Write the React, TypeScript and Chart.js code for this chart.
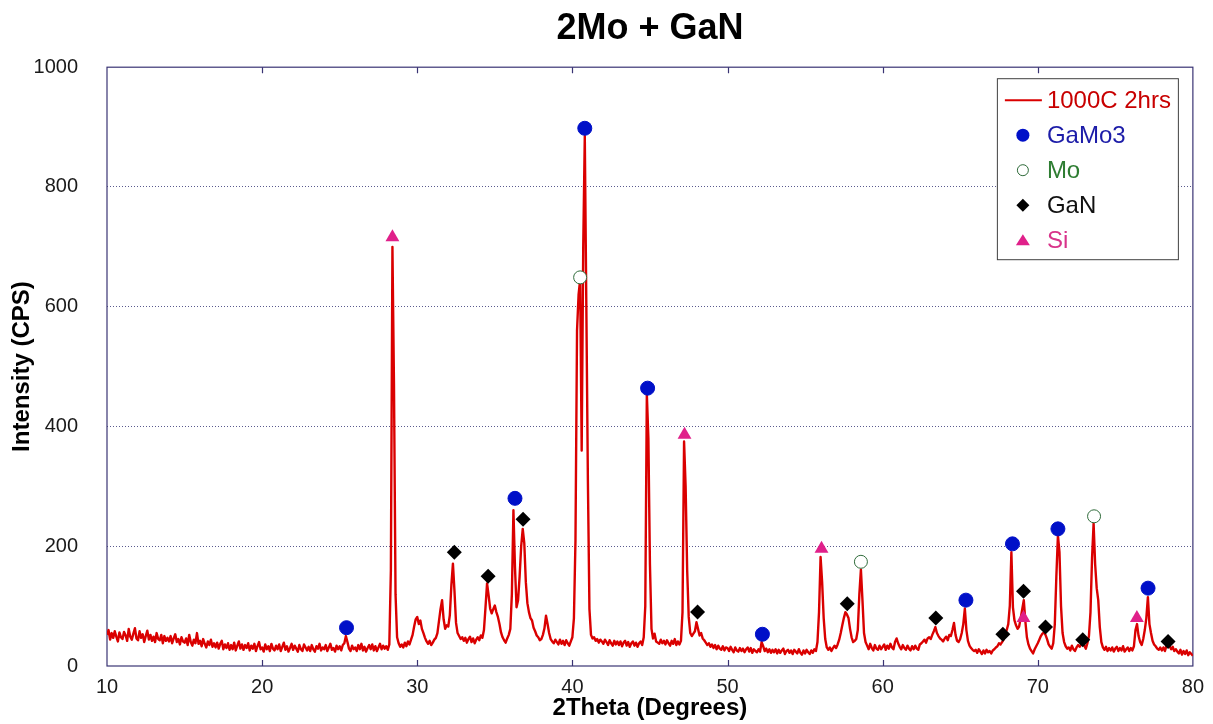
import React, { useEffect, useRef } from "react";
import { Chart, registerables } from "chart.js";

Chart.register(...registerables);

const FONT = "'Liberation Sans', Arial, Helvetica, sans-serif";

// Diffraction scan: first angle and step (degrees 2θ), one intensity per step.
const SCAN_START = 10;
const SCAN_STEP = 0.1;

// Intensity (CPS), one row of ten readings per degree from 10° to 79.9°, then 80°.
const intensity: number[] = [
  52, 60, 44, 55, 47, 58, 49, 41, 56, 48, // 10
  45, 57, 51, 42, 62, 49, 44, 54, 63, 46, // 11
  43, 58, 47, 53, 40, 50, 59, 44, 52, 42, // 12
  49, 40, 55, 45, 43, 52, 38, 50, 42, 47, // 13
  41, 50, 38, 46, 53, 40, 45, 36, 48, 41, // 14
  39, 46, 35, 52, 40, 34, 44, 38, 55, 37, // 15
  42, 33, 45, 37, 31, 41, 35, 44, 32, 38, // 16
  31, 39, 29, 37, 42, 28, 36, 30, 38, 27, // 17
  35, 28, 39, 26, 34, 41, 29, 36, 27, 35, // 18
  30, 38, 26, 34, 29, 37, 25, 33, 40, 28, // 19
  31, 24, 36, 28, 33, 25, 37, 29, 26, 34, // 20
  28, 36, 25, 32, 39, 27, 33, 24, 30, 37, // 21
  27, 34, 29, 24, 35, 28, 25, 36, 31, 26, // 22
  32, 25, 35, 28, 24, 33, 29, 37, 26, 31, // 23
  28, 35, 25, 31, 37, 27, 30, 24, 34, 28, // 24
  33, 26, 35, 38, 50, 40, 29, 25, 34, 28, // 25
  31, 25, 35, 28, 37, 26, 32, 24, 30, 35, // 26
  28, 36, 26, 33, 25, 31, 37, 28, 34, 29, // 27
  33, 27, 36, 160, 700, 470, 120, 48, 38, 32, // 28
  36, 31, 39, 33, 41, 36, 44, 52, 66, 78, // 29
  82, 70, 76, 62, 55, 47, 41, 37, 42, 35, // 30
  39, 44, 47, 55, 75, 95, 110, 78, 62, 68, // 31
  66, 85, 135, 171, 125, 72, 55, 50, 45, 48, // 32
  42, 47, 39, 45, 49, 40, 46, 38, 44, 48, // 33
  43, 51, 47, 60, 98, 138, 118, 96, 88, 95, // 34
  101, 90, 82, 70, 56, 48, 43, 39, 46, 52, // 35
  62, 120, 260, 165, 98, 110, 150, 200, 229, 205, // 36
  140, 105, 90, 80, 76, 64, 58, 51, 48, 43, // 37
  45, 52, 63, 84, 70, 55, 45, 41, 38, 44, // 38
  40, 36, 44, 37, 42, 35, 43, 38, 34, 41, // 39
  48, 80, 210, 560, 620, 645, 360, 700, 885, 600, // 40
  310, 95, 52, 46, 48, 42, 45, 39, 44, 41, // 41
  37, 44, 40, 35, 43, 38, 34, 42, 36, 41, // 42
  35, 41, 33, 39, 42, 34, 40, 32, 38, 41, // 43
  34, 39, 32, 38, 41, 35, 48, 100, 454, 380, // 44
  170, 62, 46, 54, 41, 39, 37, 44, 38, 42, // 45
  36, 43, 38, 34, 42, 37, 45, 35, 41, 36, // 46
  42, 90, 375, 300, 160, 82, 55, 50, 54, 58, // 47
  73, 62, 51, 55, 46, 43, 39, 35, 38, 32, // 48
  36, 30, 35, 28, 34, 29, 27, 33, 26, 31, // 49
  30, 25, 32, 27, 23, 31, 26, 24, 30, 25, // 50
  29, 23, 28, 31, 24, 30, 22, 28, 25, 23, // 51
  28, 24, 40, 33, 25, 29, 23, 28, 22, 27, // 52
  23, 28, 21, 27, 22, 26, 29, 20, 25, 27, // 53
  22, 26, 20, 27, 24, 21, 28, 22, 19, 26, // 54
  21, 27, 23, 20, 26, 22, 28, 25, 40, 90, // 55
  182, 140, 80, 45, 31, 27, 31, 25, 30, 34, // 56
  30, 36, 44, 55, 68, 80, 90, 86, 80, 62, // 57
  48, 40, 42, 45, 60, 120, 161, 110, 55, 40, // 58
  34, 28, 37, 30, 26, 35, 29, 27, 34, 28, // 59
  32, 36, 27, 34, 29, 37, 31, 28, 40, 46, // 60
  38, 32, 28, 35, 30, 27, 34, 29, 26, 33, // 61
  28, 34, 29, 27, 36, 38, 41, 44, 39, 46, // 62
  48, 45, 52, 58, 65, 55, 50, 46, 44, 41, // 63
  46, 49, 43, 52, 50, 60, 72, 52, 42, 40, // 64
  45, 55, 70, 96, 60, 42, 34, 30, 27, 25, // 65
  27, 22, 28, 24, 20, 26, 21, 27, 23, 25, // 66
  21, 26, 28, 31, 33, 38, 36, 40, 44, 55, // 67
  60, 70, 101, 190, 98, 76, 68, 62, 66, 80, // 68
  95, 110, 75, 48, 36, 29, 25, 21, 28, 33, // 69
  38, 44, 50, 54, 56, 52, 45, 36, 32, 29, // 70
  38, 70, 150, 218, 190, 100, 55, 40, 33, 29, // 71
  31, 26, 34, 28, 25, 31, 35, 32, 36, 38, // 72
  34, 29, 38, 50, 90, 180, 238, 170, 130, 110, // 73
  65, 40, 31, 27, 32, 25, 30, 26, 31, 24, // 74
  29, 32, 25, 30, 26, 33, 24, 28, 31, 25, // 75
  30, 26, 33, 60, 70, 50, 40, 35, 45, 60, // 76
  80, 115, 70, 55, 42, 36, 33, 29, 27, 31, // 77
  26, 31, 25, 34, 38, 33, 28, 32, 25, 28, // 78
  24, 21, 27, 19, 25, 20, 26, 18, 23, 20, // 79
  17, // 80
];

// Phase identification markers: [2θ, marker height]
const gaMo3Peaks: [number, number][] = [
  [25.44, 64], [36.3, 280], [40.8, 898], [44.85, 464], [52.25, 53],
  [65.37, 110], [68.37, 204], [71.3, 229], [77.11, 130],
];
const moPeaks: [number, number][] = [
  [40.5, 649], [58.6, 174], [73.63, 250],
];
const ganPeaks: [number, number][] = [
  [32.39, 190], [34.57, 150], [36.82, 245], [48.07, 90], [57.72, 104],
  [63.43, 80], [67.75, 53], [69.08, 125], [70.5, 65], [72.9, 44], [78.4, 41],
];
const siPeaks: [number, number][] = [
  [28.4, 716], [47.23, 386], [56.06, 196], [69.08, 80], [76.39, 80],
];

const X_TICKS = [10, 20, 30, 40, 50, 60, 70, 80];

const LINE_RED = "#DA0000";
const FRAME = "#3A3474";

const toPoints = (pairs: [number, number][]) => pairs.map(([x, y]) => ({ x, y }));

// Plot frame with inward tick marks on top and bottom edges.
const framePlugin = {
  id: "plotFrame",
  beforeDatasetsDraw(chart: any) {
    const { ctx, chartArea } = chart;
    const xs = chart.scales.x;
    ctx.save();
    ctx.strokeStyle = FRAME;
    ctx.lineWidth = 1.2;
    ctx.strokeRect(chartArea.left, chartArea.top, chartArea.right - chartArea.left, chartArea.bottom - chartArea.top);
    ctx.beginPath();
    X_TICKS.forEach((v) => {
      if (v === xs.min || v === xs.max) return;
      const px = Math.round(xs.getPixelForValue(v)) + 0.5;
      ctx.moveTo(px, chartArea.bottom);
      ctx.lineTo(px, chartArea.bottom - 6);
      ctx.moveTo(px, chartArea.top);
      ctx.lineTo(px, chartArea.top + 6);
    });
    ctx.stroke();
    ctx.restore();
  },
};

type KeyEntry = { label: string; color: string; draw: (ctx: CanvasRenderingContext2D, x: number, y: number) => void };

const keyEntries: KeyEntry[] = [
  {
    label: "1000C 2hrs",
    color: "#C80000",
    draw: (ctx, x, y) => {
      ctx.strokeStyle = LINE_RED;
      ctx.lineWidth = 2;
      ctx.beginPath();
      ctx.moveTo(x - 18, y);
      ctx.lineTo(x + 19, y);
      ctx.stroke();
    },
  },
  {
    label: "GaMo3",
    color: "#1C1CA8",
    draw: (ctx, x, y) => {
      ctx.fillStyle = "#0010C8";
      ctx.beginPath();
      ctx.arc(x, y, 6.5, 0, Math.PI * 2);
      ctx.fill();
    },
  },
  {
    label: "Mo",
    color: "#2E7D32",
    draw: (ctx, x, y) => {
      ctx.fillStyle = "#FFFFFF";
      ctx.strokeStyle = "#2F6B3A";
      ctx.lineWidth = 1;
      ctx.beginPath();
      ctx.arc(x, y, 5.5, 0, Math.PI * 2);
      ctx.fill();
      ctx.stroke();
    },
  },
  {
    label: "GaN",
    color: "#111111",
    draw: (ctx, x, y) => {
      ctx.fillStyle = "#000000";
      ctx.beginPath();
      ctx.moveTo(x - 6.5, y);
      ctx.lineTo(x, y - 6.5);
      ctx.lineTo(x + 6.5, y);
      ctx.lineTo(x, y + 6.5);
      ctx.closePath();
      ctx.fill();
    },
  },
  {
    label: "Si",
    color: "#D8338A",
    draw: (ctx, x, y) => {
      ctx.fillStyle = "#E0208A";
      ctx.beginPath();
      ctx.moveTo(x, y - 6);
      ctx.lineTo(x + 7, y + 5);
      ctx.lineTo(x - 7, y + 5);
      ctx.closePath();
      ctx.fill();
    },
  },
];

// Boxed key in the upper right corner of the plot.
const keyPlugin = {
  id: "phaseKey",
  afterDraw(chart: any) {
    const { ctx, chartArea } = chart;
    const boxW = 181;
    const boxH = 181;
    const left = chartArea.right - 15 - boxW;
    const top = chartArea.top + 11;
    ctx.save();
    ctx.fillStyle = "#FFFFFF";
    ctx.fillRect(left, top, boxW, boxH);
    ctx.strokeStyle = "#404040";
    ctx.lineWidth = 1;
    ctx.strokeRect(left + 0.5, top + 0.5, boxW, boxH);
    ctx.font = `24px ${FONT}`;
    ctx.textBaseline = "middle";
    ctx.textAlign = "left";
    keyEntries.forEach((e, i) => {
      const cy = top + 22 + i * 35;
      e.draw(ctx, left + 26, cy);
      ctx.fillStyle = e.color;
      ctx.fillText(e.label, left + 50, cy + 1);
    });
    ctx.restore();
  },
};

export default function App() {
  const canvasRef = useRef<HTMLCanvasElement>(null);

  useEffect(() => {
    const canvas = canvasRef.current;
    if (!canvas) return;

    const scan = intensity.map((v, i) => ({ x: SCAN_START + i * SCAN_STEP, y: v }));

    const markerSet = (label: string, pairs: [number, number][], style: any) => ({
      label,
      data: toPoints(pairs),
      showLine: false,
      order: 0,
      ...style,
    });

    const chart = new Chart(canvas, {
      type: "line",
      data: {
        datasets: [
          markerSet("GaMo3", gaMo3Peaks, {
            pointStyle: "circle",
            pointRadius: 7,
            pointBackgroundColor: "#0010C8",
            pointBorderColor: "#0010C8",
            pointBorderWidth: 1,
          }),
          markerSet("Mo", moPeaks, {
            pointStyle: "circle",
            pointRadius: 6.5,
            pointBackgroundColor: "#FFFFFF",
            pointBorderColor: "#2F6B3A",
            pointBorderWidth: 1,
          }),
          markerSet("GaN", ganPeaks, {
            pointStyle: "rectRot",
            pointRadius: 7.5,
            pointBackgroundColor: "#000000",
            pointBorderColor: "#000000",
            pointBorderWidth: 0,
          }),
          markerSet("Si", siPeaks, {
            pointStyle: "triangle",
            pointRadius: 8,
            pointBackgroundColor: "#E0208A",
            pointBorderColor: "#E0208A",
            pointBorderWidth: 0,
          }),
          {
            label: "1000C 2hrs",
            data: scan,
            borderColor: LINE_RED,
            borderWidth: 2.4,
            borderJoinStyle: "round",
            pointRadius: 0,
            tension: 0,
            fill: false,
            order: 10,
          },
        ],
      },
      options: {
        responsive: false,
        animation: false,
        devicePixelRatio: 1,
        layout: { padding: { top: 0, right: 17, bottom: 0, left: 0 } },
        plugins: {
          legend: { display: false },
          tooltip: { enabled: false },
          title: {
            display: true,
            fullSize: false,
            text: "2Mo + GaN",
            color: "#000000",
            font: { family: FONT, size: 36, weight: "bold" },
            padding: { top: 7, bottom: 17 },
          },
        },
        scales: {
          x: {
            type: "linear",
            min: 10,
            max: 80,
            grid: { display: false, drawTicks: false },
            border: { display: false },
            ticks: {
              stepSize: 10,
              padding: 9,
              maxRotation: 0,
              color: "#1A1A1A",
              font: { family: FONT, size: 20 },
              callback: (v: any) => String(v),
            },
            title: {
              display: true,
              text: "2Theta (Degrees)",
              color: "#000000",
              font: { family: FONT, size: 24, weight: "bold" },
              padding: { top: 0, bottom: 1 },
            },
            afterFit: (s: any) => {
              s.height = 58;
            },
          },
          y: {
            min: 0,
            max: 1000,
            grid: {
              drawTicks: false,
              lineWidth: 1,
              color: (c: any) =>
                c.tick && (c.tick.value === 0 || c.tick.value === 1000) ? "rgba(0,0,0,0)" : "#5A5A8E",
            },
            border: { display: false, dash: [1, 2] },
            ticks: {
              stepSize: 200,
              padding: 29,
              color: "#1A1A1A",
              font: { family: FONT, size: 20 },
              callback: (v: any) => String(v),
            },
            title: {
              display: true,
              text: "Intensity (CPS)",
              color: "#000000",
              font: { family: FONT, size: 24, weight: "bold" },
              padding: { top: 8, bottom: 0 },
            },
            afterFit: (s: any) => {
              s.width = 107;
            },
          },
        },
      },
      plugins: [framePlugin, keyPlugin],
    } as any);

    return () => chart.destroy();
  }, []);

  return (
    <div style={{ position: "absolute", left: 0, top: 0, width: 1213, height: 724, background: "#FFFFFF" }}>
      <canvas ref={canvasRef} width={1213} height={724} style={{ display: "block", width: 1213, height: 724 }} />
    </div>
  );
}
